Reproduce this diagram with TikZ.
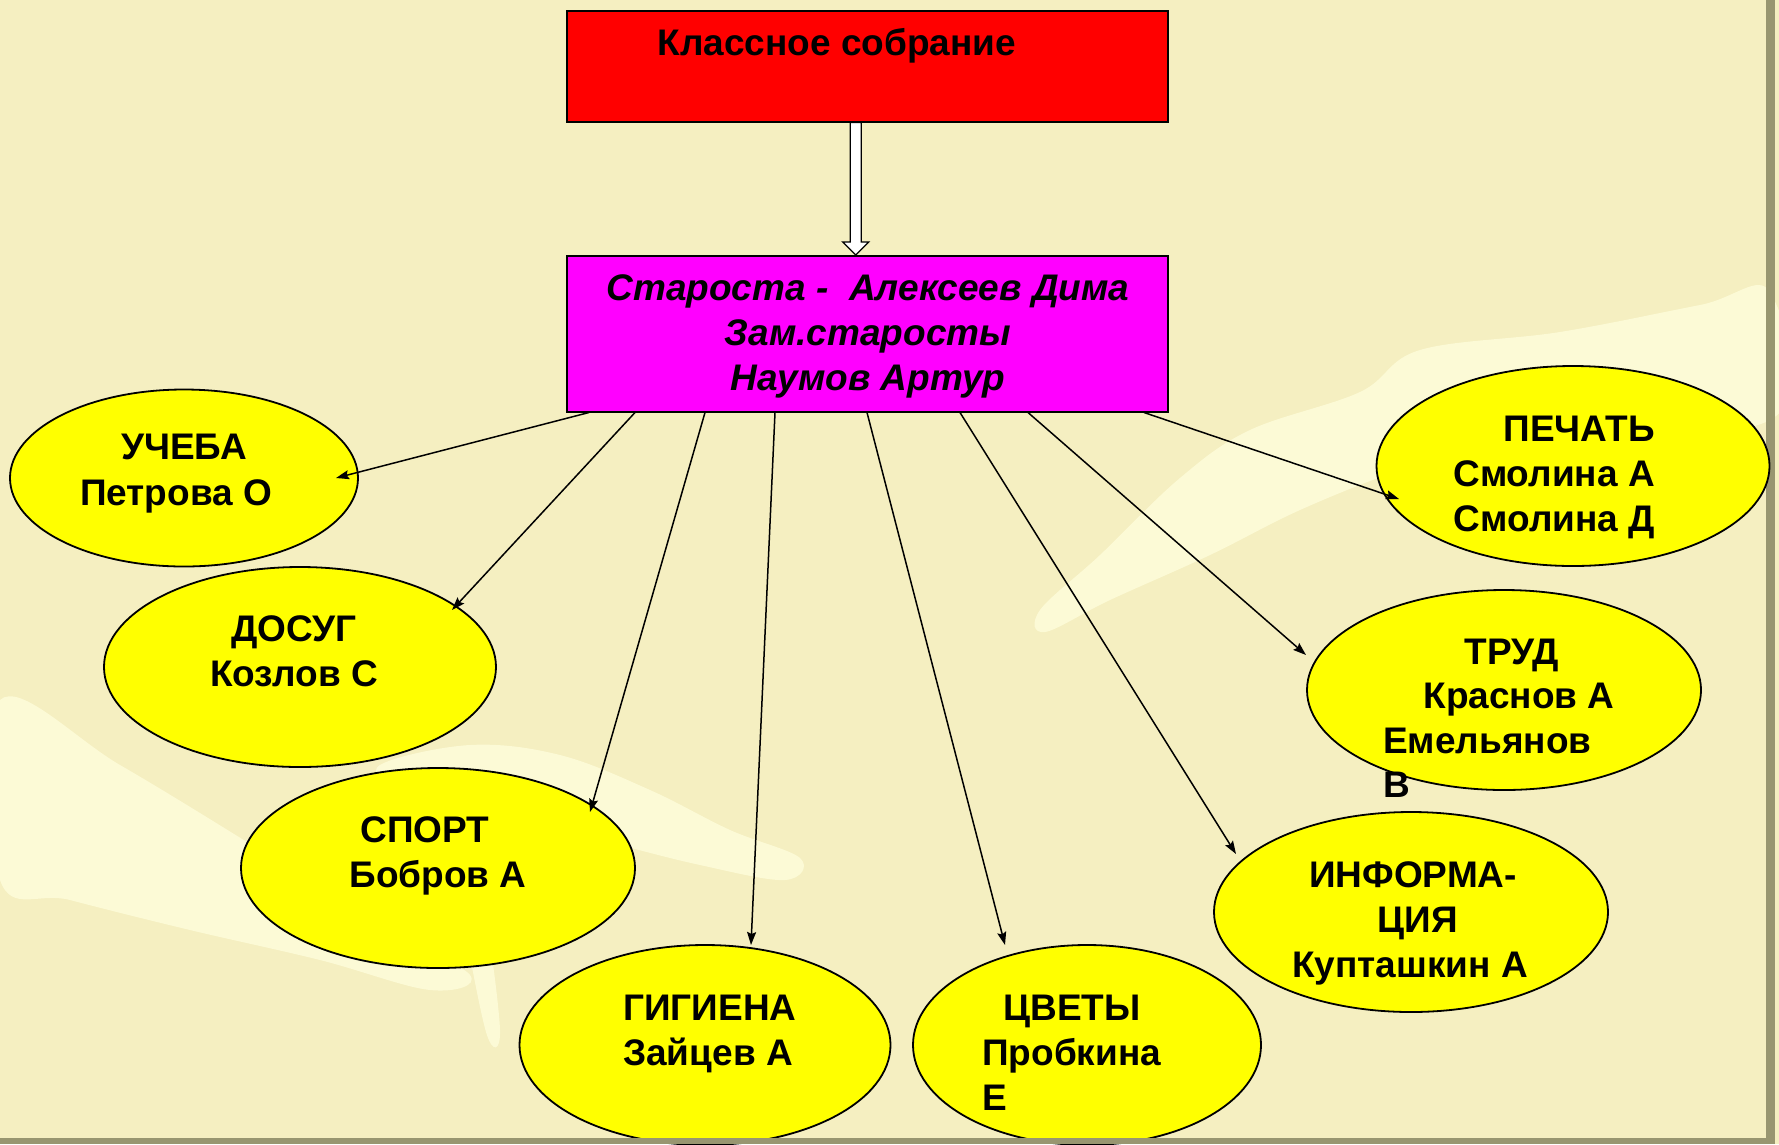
\documentclass[tikz,border=0pt]{standalone}
\usepackage{fontspec}
\setmainfont{Liberation Sans}
\usetikzlibrary{shapes.geometric,arrows.meta,calc}
\definecolor{bgc}{RGB}{245,239,193}
\definecolor{lightc}{RGB}{252,250,214}
\definecolor{framec}{RGB}{152,150,112}
\definecolor{magc}{RGB}{255,0,255}
\definecolor{yelc}{RGB}{255,255,0}
\begin{document}
\begin{tikzpicture}[x=1pt,y=-1pt,
  ell/.style={ellipse,draw=black,line width=1.8pt,fill=yelc,inner sep=0pt},
  boxst/.style={draw=black,line width=1.5pt,inner sep=0pt,anchor=north west},
  lbl/.style={font=\bfseries\fontsize{37}{45}\selectfont,inner sep=0pt},
  ilbl/.style={font=\bfseries\itshape\fontsize{37}{45}\selectfont,inner sep=0pt},
  conn/.style={line width=1.5pt,-{Stealth[length=13pt,width=9pt,inset=2pt]}},
  hollow/.style={draw=black,line width=1.3pt,fill=white,line join=miter}]
% background
\fill[bgc] (0,0) rectangle (1779,1144);
\useasboundingbox (0,0) rectangle (1779,1144);
% light swooshes
\fill[lightc] plot[smooth cycle,tension=0.6] coordinates {(0,700) (120,765) (260,850) (380,925) (470,975) (430,990) (320,960) (190,930) (70,900) (0,880)};
\fill[lightc] plot[smooth cycle,tension=0.6] coordinates {(380,765) (470,745) (560,755) (650,790) (730,830) (800,858) (785,880) (700,865) (600,840) (480,810) (400,790)};
\fill[lightc] plot[smooth cycle,tension=0.6] coordinates {(462,900) (482,900) (500,1030) (486,1032)};
\fill[lightc] plot[smooth cycle,tension=0.6] coordinates {(1770,292) (1700,305) (1560,332) (1420,350) (1360,392) (1250,430) (1180,478) (1100,555) (1040,610) (1045,632) (1110,600) (1210,555) (1300,510) (1400,470) (1500,440) (1770,420)};
% right frame
\fill[framec] (1766,0) rectangle (1775,1144);
% top box and manager box
\node[boxst,fill=red,minimum width=601pt,minimum height=111pt] (red) at (566,10) {};
\node[lbl,anchor=base] (redt) at (837,55) {Классное собрание};
\node[boxst,fill=magc,minimum width=601pt,minimum height=156pt] (mag) at (566,255) {};
\node[ilbl,anchor=base] (m1) at (868,300) {Староста -\ \ Алексеев Дима};
\node[ilbl,anchor=base] (m2) at (868,345) {Зам.старосты};
\node[ilbl,anchor=base] (m3) at (868,390) {Наумов Артур};
% hollow arrow
\coordinate (ha) at ($(red.south)+(-11.5,0)$);
\coordinate (hb) at ($(mag.north)+(-11.5,0)$);
\draw[hollow] ($(ha)+(-5.5,0)$) -- ($(hb)+(-5.5,-13)$) -- ($(hb)+(-13,-13)$) -- (hb) -- ($(hb)+(13,-13)$) -- ($(hb)+(5.5,-13)$) -- ($(ha)+(5.5,0)$) -- cycle;
% ellipses
\node[ell,minimum width=348pt,minimum height=177pt] (u) at (184,478) {};
\node[ell,minimum width=392pt,minimum height=200pt] (d) at (300,667) {};
\node[ell,minimum width=394pt,minimum height=200pt] (s) at (438,868) {};
\node[ell,minimum width=371pt,minimum height=200pt] (g) at (705,1045) {};
\node[ell,minimum width=348pt,minimum height=200pt] (c) at (1087,1045) {};
\node[ell,minimum width=394pt,minimum height=200pt] (i) at (1411,912) {};
\node[ell,minimum width=394pt,minimum height=200pt] (t) at (1504,690) {};
\node[ell,minimum width=393pt,minimum height=200pt] (p) at (1573,466) {};
% labels
\node[lbl,anchor=base] (u1) at (184,459) {УЧЕБА};
\node[lbl,anchor=base] (u2) at (176,505) {Петрова О};
\node[lbl,anchor=base] (d1) at (294,641) {ДОСУГ};
\node[lbl,anchor=base] (d2) at (294,686) {Козлов С};
\node[lbl,anchor=base] (s1) at (425,842) {СПОРТ};
\node[lbl,anchor=base] (s2) at (438,887) {Бобров А};
\node[lbl,anchor=base] (g1) at (710,1020) {ГИГИЕНА};
\node[lbl,anchor=base] (g2) at (708,1065) {Зайцев А};
\node[lbl,anchor=base] (c1) at (1072,1020) {ЦВЕТЫ};
\node[lbl,anchor=base west] (c2) at (982,1065) {Пробкина};
\node[lbl,anchor=base west] (c3) at (982,1110) {Е};
\node[lbl,anchor=base] (i1) at (1413,887) {ИНФОРМА-};
\node[lbl,anchor=base] (i2) at (1418,932) {ЦИЯ};
\node[lbl,anchor=base] (i3) at (1410,977) {Купташкин А};
\node[lbl,anchor=base] (t1) at (1512,664) {ТРУД};
\node[lbl,anchor=base] (t2) at (1519,708) {Краснов А};
\node[lbl,anchor=base west] (t3) at (1383,753) {Емельянов};
\node[lbl,anchor=base west] (t4) at (1383,797) {В};
\node[lbl,anchor=base east] (p1) at (1655,441) {ПЕЧАТЬ};
\node[lbl,anchor=base east] (p2) at (1655,486) {Смолина А};
\node[lbl,anchor=base east] (p3) at (1655,531) {Смолина Д};
% arrow ends
\coordinate (e1) at ($(u)+(152,0)$);
\coordinate (e2) at ($(d)+(152,-57)$);
\coordinate (e3) at ($(s)+(152,-56)$);
\coordinate (e4) at ($(g)+(46,-100)$);
\coordinate (e5) at ($(c)+(-82,-100)$);
\coordinate (e6) at ($(i)+(-175,-58)$);
\coordinate (e7) at ($(t)+(-198,-35)$);
\coordinate (e8) at ($(p)+(-174,33)$);
\draw[conn] ($(mag.south west)+(23,0)$) -- (e1);
\draw[conn] ($(mag.south west)+(69,0)$) -- (e2);
\draw[conn] ($(mag.south west)+(139,0)$) -- (e3);
\draw[conn] ($(mag.south west)+(209,0)$) -- (e4);
\draw[conn] ($(mag.south west)+(301,0)$) -- (e5);
\draw[conn] ($(mag.south west)+(394,0)$) -- (e6);
\draw[conn] ($(mag.south west)+(462,0)$) -- (e7);
\draw[conn] ($(mag.south west)+(578,0)$) -- (e8);
% bottom frame
\fill[framec] (0,1138) rectangle (1775,1144);
\end{tikzpicture}
\end{document}
